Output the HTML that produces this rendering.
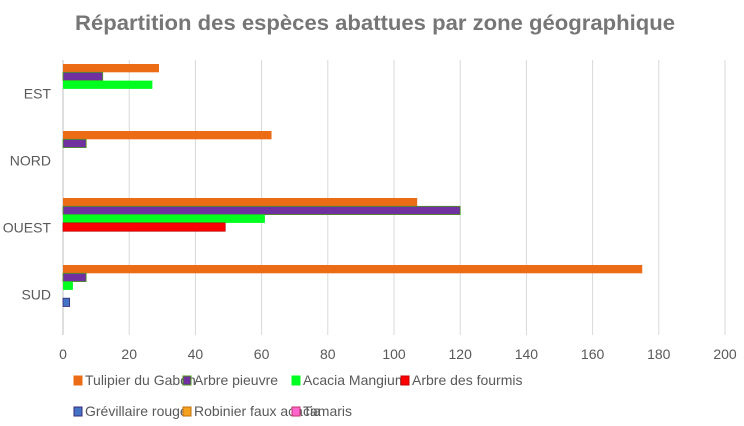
<!DOCTYPE html>
<html><head><meta charset="utf-8"><style>body{margin:0;background:#fff}svg{display:block;font-family:"Liberation Sans",sans-serif}</style></head>
<body>
<svg id="c" width="744" height="426">
<text x="375" y="30" text-anchor="middle" font-size="21" font-weight="bold" fill="#767676" textLength="600" lengthAdjust="spacingAndGlyphs">Répartition des espèces abattues par zone géographique</text>
<g id="grid"></g><g id="bars"></g><g id="ylab"></g><g id="xlab"></g><g id="legend"></g>
</svg>
<script>
const categories = ["EST","NORD","OUEST","SUD"];
const seriesNames = ["Tulipier du Gabon","Arbre pieuvre","Acacia Mangium","Arbre des fourmis","Grévillaire rouge","Robinier faux acacia","Tamaris"];
const seriesColors = ["#ec6c16","#7030a0","#00ff1e","#ff0000","#4472c4","#f4a21d","#ff66cc"];
const seriesStroke = ["none","#4d9a1a","none","#c00000","#3a2a7a","#c07010","#c0306a"];
const sTulipier = [29,63,107,175];
const sPieuvre = [12,7,120,7];
const sAcacia = [27,0,61,3];
const sFourmis = [0,0,49,0];
const sGrevillaire = [0,0,0,2];
const sRobinier = [0,0,0,0];
const sTamaris = [0,0,0,0];
const xTicks = [0,20,40,60,80,100,120,140,160,180,200];
const series = [sTulipier,sPieuvre,sAcacia,sFourmis,sGrevillaire,sRobinier,sTamaris];
const NS="http://www.w3.org/2000/svg";
const x0=63,x1=725,xMax=200,plotTop=60,bandH=67,barH=8.3,barOff=4;
const xs=v=>x0+(v/xMax)*(x1-x0);
function mk(t,a,p){const e=document.createElementNS(NS,t);for(const k in a)e.setAttribute(k,a[k]);p.appendChild(e);return e;}
const grid=document.getElementById('grid'),bars=document.getElementById('bars'),ylab=document.getElementById('ylab'),xlab=document.getElementById('xlab'),leg=document.getElementById('legend');
xTicks.forEach(t=>{
  const l=mk('line',{x1:xs(t),x2:xs(t),y1:plotTop,y2:335,stroke:t===0?'#bfbfbf':'#d9d9d9','stroke-width':1},grid);
  
  
  const tx=mk('text',{x:xs(t),y:359,'text-anchor':'middle','font-size':14,fill:'#595959'},xlab);
  tx.textContent=t;
  
  
});
categories.forEach((c,ci)=>{
  const tx=mk('text',{x:51,y:plotTop+ci*bandH+bandH/2+5,'text-anchor':'end','font-size':14,fill:'#595959'},ylab);
  tx.textContent=c;
  
  
  series.forEach((s,si)=>{
    const v=s[ci]; if(!v) return;
    const r=mk('rect',{x:x0,y:plotTop+ci*bandH+barOff+si*barH,width:xs(v)-x0,height:barH,fill:seriesColors[si]},bars);
    if(seriesStroke[si]!=='none'){r.setAttribute('stroke',seriesStroke[si]);r.setAttribute('stroke-width',0.8);}
    
    
  });
});
const legX=[75,184,293,402];
seriesNames.forEach((n,i)=>{
  const row=Math.floor(i/4),col=i%4;
  const g=mk('g',{},leg);
  
  
  const y=row?416:385;
  mk('rect',{x:legX[col]-1,y:y-9,width:8,height:9,fill:seriesColors[i],stroke:seriesStroke[i]==='none'?seriesColors[i]:seriesStroke[i],'stroke-width':1},g);
  const t=mk('text',{x:legX[col]+10,y:y,'font-size':14,fill:'#595959'},g);
  t.textContent=n;
});
</script>
</body></html>
